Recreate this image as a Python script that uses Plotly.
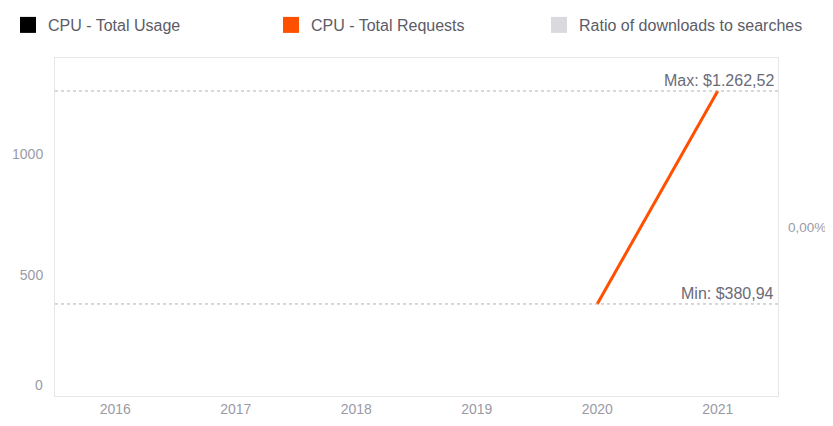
import plotly.graph_objects as go

years = ["2016", "2017", "2018", "2019", "2020", "2021"]
total_usage = [None, None, None, None, None, None]
total_requests = [None, None, None, None, 380.94, 1262.52]
ratio = [None, None, None, None, None, None]
series_names = ["CPU - Total Usage", "CPU - Total Requests", "Ratio of downloads to searches"]
series_colors = ["#000000", "#FF5000", "#D9D9DE"]
y_ticks = [500, 1000]
max_val = max(v for v in total_requests if v is not None)
min_val = min(v for v in total_requests if v is not None)
max_label = "Max: $1.262,52"
min_label = "Min: $380,94"

FONT = "Liberation Sans, Arial, sans-serif"
# the page body has an 8px default margin, so the figure is sized to fit the window
W, H = 825, 418

fig = go.Figure()
fig.add_trace(go.Scatter(x=years, y=total_usage, mode="lines", line=dict(color=series_colors[0], width=3),
                         showlegend=False, name=series_names[0]))
fig.add_trace(go.Scatter(x=years, y=total_requests, mode="lines", line=dict(color=series_colors[1], width=3),
                         showlegend=False, name=series_names[1]))
fig.add_trace(go.Scatter(x=years, y=ratio, mode="lines", line=dict(color=series_colors[2], width=3),
                         showlegend=False, name=series_names[2], yaxis="y2"))
# legend entries with square symbols, each in its own legend box
legend_ids = ["legend", "legend2", "legend3"]
legend_x_px = [-4, 263, 531]
for name, color, lid in zip(series_names, series_colors, legend_ids):
    fig.add_trace(go.Scatter(x=[None], y=[None], mode="markers", name=name, legend=lid,
                             marker=dict(symbol="square", size=16, color=color)))

# min / max dashed lines
for v, label in [(max_val, max_label), (min_val, min_label)]:
    fig.add_shape(type="line", xref="paper", x0=0, x1=1, yref="y", y0=v, y1=v,
                  line=dict(color="#b0b0b8", width=1, dash="dot"))
    fig.add_annotation(xref="paper", x=0.997, yref="y", y=v, text=label, showarrow=False,
                       xanchor="right", yanchor="bottom", yshift=0,
                       font=dict(family=FONT, size=16, color="#6b6b78"))

# zero label (drawn slightly above the baseline, as in the reference)
fig.add_annotation(xref="paper", x=0, xshift=-10, yref="y", y=0, yshift=11, text="0", showarrow=False,
                   xanchor="right", yanchor="middle", font=dict(family=FONT, size=14, color="#9a9aa6"))

legend_common = dict(orientation="h", xref="container", yref="container", y=1.0,
                     xanchor="left", yanchor="top",
                     font=dict(family=FONT, size=16, color="#5c5c68"),
                     itemclick=False, itemdoubleclick=False, bgcolor="rgba(0,0,0,0)")

fig.update_layout(
    width=W, height=H,
    margin=dict(l=47, r=55, t=50, b=30, autoexpand=False),
    paper_bgcolor="white", plot_bgcolor="white",
    font=dict(family=FONT, color="#555"),
    legend=dict(legend_common, x=legend_x_px[0] / W),
    legend2=dict(legend_common, x=legend_x_px[1] / W),
    legend3=dict(legend_common, x=legend_x_px[2] / W),
    xaxis=dict(type="category", range=[-0.5, 5.5], showgrid=False, zeroline=False,
               showline=True, linecolor="#e6e6ea", mirror=True, ticks="",
               tickfont=dict(family=FONT, size=14, color="#9a9aa6")),
    yaxis=dict(range=[0, 1399], tickvals=y_ticks, showgrid=False, zeroline=False,
               showline=True, linecolor="#e6e6ea", mirror=True, ticks="",
               ticklabelstandoff=8,
               tickfont=dict(family=FONT, size=14, color="#9a9aa6")),
    yaxis2=dict(overlaying="y", side="right", range=[-1, 1], tickvals=[0], ticktext=["0,00%"],
                showgrid=False, zeroline=False, showline=False, ticks="", ticklabelstandoff=9,
                tickfont=dict(family=FONT, size=13.5, color="#9a9aa6")),
)

fig.write_html("out.html")
